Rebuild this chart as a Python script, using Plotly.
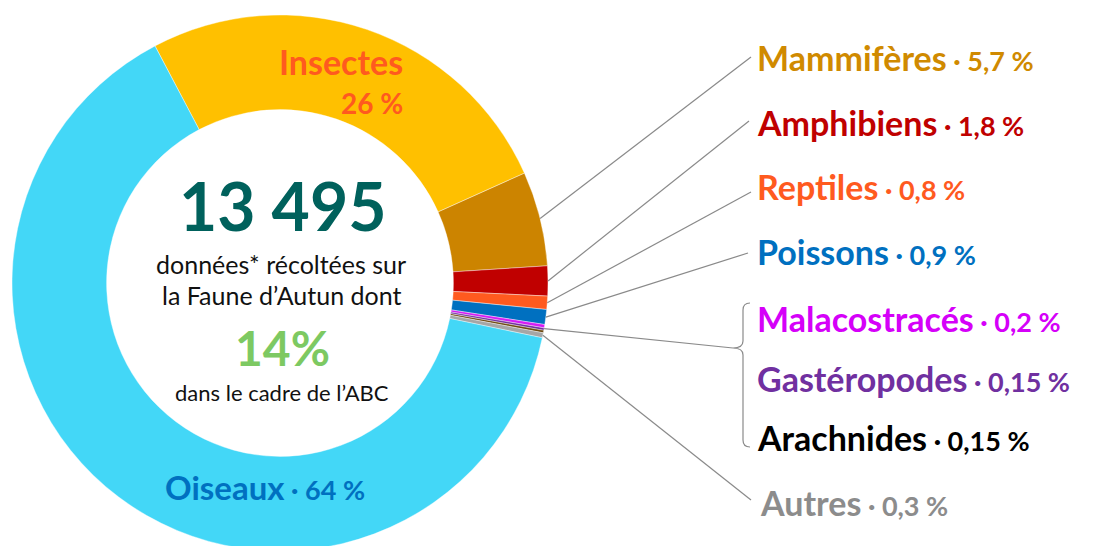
import math
import plotly.graph_objects as go

# ---- data ----
categories = ["Insectes", "Mammifères", "Amphibiens", "Reptiles", "Poissons",
              "Malacostracés", "Gastéropodes", "Arachnides", "Autres", "Oiseaux"]
values = [26, 5.7, 1.8, 0.8, 0.9, 0.2, 0.15, 0.15, 0.3, 64]
value_labels = ["26 %", "5,7 %", "1,8 %", "0,8 %", "0,9 %", "0,2 %", "0,15 %", "0,15 %", "0,3 %", "64 %"]
slice_colors = ["#FFC000", "#CC8400", "#C00000", "#FF5A1F", "#0070C0",
                "#D51CF5", "#7030A0", "#6E4A12", "#A6A6A6", "#43D7F7"]
label_colors = ["#FF5A1F", "#D08A00", "#C00000", "#FF5A1F", "#0070C0",
                "#D500F9", "#7030A0", "#000000", "#8C8C8C", "#0070C0"]
total_text = "13 495"
abc_text = "14%"

W, H = 1094, 546
OFF = 8  # default page body margin
CX, CY, R = 280, 283, 268
HOLE = 0.647
ROT = -27.8
FONT = "Lato"

def px(x):
    return (x - OFF) / W

def py(y):
    return 1 - (y - OFF) / H

fig = go.Figure()
fig.add_trace(go.Pie(
    labels=categories, values=values, sort=False, direction="clockwise",
    rotation=ROT, hole=HOLE, textinfo="none", hoverinfo="label+percent",
    marker=dict(colors=slice_colors, line=dict(color="white", width=0.4)),
    domain=dict(x=[px(CX - R), px(CX + R)], y=[py(CY + R), py(CY - R)]),
    showlegend=False,
))

tot = sum(values)
cum = []
acc = 0
for v in values:
    cum.append(acc)
    acc += v

def edge_point(frac_start, frac_end, rr=R):
    ang = math.radians(ROT + 360 * (frac_start + frac_end) / 2 / tot)
    return CX + rr * math.sin(ang), CY - rr * math.cos(ang)

annotations = []
shapes = []
LINE = dict(color="#8A8A8A", width=1.2)

def add_line(x0, y0, x1, y1):
    shapes.append(dict(type="line", xref="paper", yref="paper",
                       x0=px(x0), y0=py(y0), x1=px(x1), y1=py(y1), line=LINE))

def add_text(x, y, text, size, color, xanchor="left"):
    annotations.append(dict(x=px(x), y=py(y), xref="paper", yref="paper",
                            text=text, showarrow=False, xanchor=xanchor, yanchor="middle",
                            font=dict(family=FONT, size=size, color=color)))

NAME_SIZE = 34
VAL_SIZE = 27

def label_html(name, val):
    return f"<b>{name}</b><b><span style='font-size:{VAL_SIZE}px'> · {val}</span></b>"

# right-side labels with leader lines
LX = 755
label_y = {1: 57, 2: 122, 3: 187, 4: 252, 5: 318, 6: 378, 7: 437, 8: 502}
line_end = {1: (751, 57), 2: (749, 121), 3: (751, 192), 4: (748, 253)}
for i in range(1, 9):
    add_text(LX if i != 8 else 758, label_y[i], label_html(categories[i], value_labels[i]),
             NAME_SIZE, label_colors[i])
for i in range(1, 5):
    x0, y0 = edge_point(cum[i], cum[i] + values[i])
    add_line(x0, y0, *line_end[i])

# grouped small slices -> brace
gx0, gy0 = edge_point(cum[5], cum[7] + values[7])
add_line(gx0, gy0, 733, 348)
bx, tipx, tipy = 743, 733, 348
ytop, ybot = 303, 447
path = (f"M {px(750)},{py(ytop)} Q {px(bx)},{py(ytop)} {px(bx)},{py(ytop+7)} "
        f"L {px(bx)},{py(tipy-7)} Q {px(bx)},{py(tipy)} {px(tipx)},{py(tipy)} "
        f"Q {px(bx)},{py(tipy)} {px(bx)},{py(tipy+7)} "
        f"L {px(bx)},{py(ybot-7)} Q {px(bx)},{py(ybot)} {px(750)},{py(ybot)}")
shapes.append(dict(type="path", xref="paper", yref="paper", path=path, line=LINE))

# Autres
ax0, ay0 = edge_point(cum[8], cum[8] + values[8])
add_line(ax0, ay0, 751, 500)

# in-ring labels
add_text(405, 62, "<b>Insectes</b>", NAME_SIZE, label_colors[0], xanchor="right")
add_text(405, 103, "<b>26 %</b>", 28, label_colors[0], xanchor="right")
add_text(163, 487, label_html(categories[9], value_labels[9]), 33, label_colors[9])

# centre text
add_text(282, 205, f"<b>{total_text}</b>", 66, "#00615C", xanchor="center")
add_text(281, 264, "données* récoltées sur", 25, "#111111", xanchor="center")
add_text(281, 295, "la Faune d’Autun dont", 25, "#111111", xanchor="center")
add_text(282, 347, f"<b>{abc_text}</b>", 48, "#7DC962", xanchor="center")
add_text(282, 392, "dans le cadre de l’ABC", 22, "#111111", xanchor="center")

fig.update_layout(
    width=W, height=H, margin=dict(l=0, r=0, t=0, b=0),
    paper_bgcolor="white", plot_bgcolor="white",
    annotations=annotations, shapes=shapes,
)
fig.write_html("out.html")
